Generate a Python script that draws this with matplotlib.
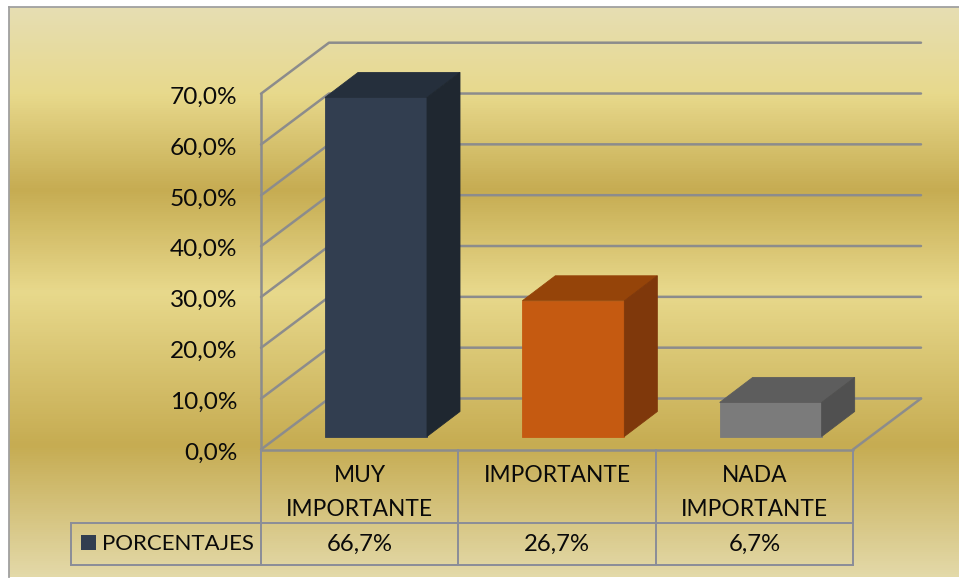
import numpy as np
import matplotlib
matplotlib.use("Agg")
import matplotlib.pyplot as plt
from matplotlib.patches import Polygon
from matplotlib.colors import LinearSegmentedColormap
from matplotlib.transforms import ScaledTranslation

categories = ["MUY\nIMPORTANTE", "IMPORTANTE", "NADA\nIMPORTANTE"]
values = [66.7, 26.7, 6.7]
value_labels = ["66,7%", "26,7%", "6,7%"]
series_name = "PORCENTAJES"
yticks = [0, 10, 20, 30, 40, 50, 60, 70]
ytick_labels = ["0,0%", "10,0%", "20,0%", "30,0%", "40,0%", "50,0%", "60,0%", "70,0%"]
front = ["#323E50", "#C55A11", "#7B7B7B"]
top = ["#252F3C", "#954409", "#5D5D5D"]
side = ["#1F2730", "#7F380B", "#505050"]

W, H = 959, 578
plt.rcParams["font.family"] = ["Lato", "DejaVu Sans"]
fs_num = 17.6
fs_tab = 17.2
fs_cat = 16.4
fs_ser = 16.0
GRID = "#8C8C8C"
TABLE = "#8A8D98"
INK = "#0A0A0A"
fig = plt.figure(figsize=(W / 100, H / 100), dpi=100, facecolor="white")

def px_axes(l, t, r, b, **kw):
    return fig.add_axes([l / W, 1 - b / H, (r - l) / W, (b - t) / H], **kw)

# background panel with banded gold gradient
bg = px_axes(9, 7, 959, 577)
stops = [(0, "#E6DEB2"), (0.15, "#E8D98C"), (0.32, "#C6AC52"), (0.50, "#E8D98C"),
         (0.77, "#C6AC52"), (1, "#E3D9A8")]
cm = LinearSegmentedColormap.from_list("gold", stops)
bg.imshow(np.linspace(0, 1, 570)[:, None], cmap=cm, aspect="auto", vmin=0, vmax=1)
bg.set_xticks([]); bg.set_yticks([])
for s in ["top", "left"]:
    bg.spines[s].set_color("#A0A0A0"); bg.spines[s].set_linewidth(1.3)
for s in ["right", "bottom"]:
    bg.spines[s].set_visible(False)

# main axes: front plane of the 3D box
Y0 = 449.5
X0 = 261
ax = px_axes(X0, 93.7, 853, Y0)
ax.set_xlim(0, 3); ax.set_ylim(0, 70)
ax.patch.set_alpha(0)
for s in ax.spines.values():
    s.set_visible(False)
ax.set_xticks([]); ax.set_yticks(yticks)
ax.set_yticklabels(ytick_labels, fontsize=fs_num, color=INK)
ax.tick_params(axis="y", length=0, pad=17)
shift = ScaledTranslation(0, -1.5 / 100, fig.dpi_scale_trans)
for lab in ax.get_yticklabels():
    lab.set_transform(lab.get_transform() + shift)

ux = 3 / 592   # data per px
uy = 70 / 355.8
dx, dy = 68 * ux, 51 * uy      # wall depth
gl = dict(color=GRID, lw=1.8, clip_on=False, solid_capstyle="round")
for v in yticks:
    ax.plot([0, dx, dx + 3], [v, v + dy, v + dy], **gl)
ax.plot([0, 0], [0, 70], **gl)
ax.plot([0, 3], [0, 0], **gl)
ax.plot([3, 3 + dx], [0, dy], **gl)

# bars
bw = 102 * ux
bx, by = 33 * ux, 25 * uy
x_off = 64 * ux
y_off = 13 * uy
for i, v in enumerate(values):
    x0 = i + x_off
    x1 = x0 + bw
    y0 = y_off
    y1 = y0 + v
    ec = dict(clip_on=False, lw=0.6)
    ax.add_patch(Polygon([(x0, y0), (x1, y0), (x1, y1), (x0, y1)], fc=front[i], ec=front[i], zorder=4, **ec))
    ax.add_patch(Polygon([(x0, y1), (x1, y1), (x1 + bx, y1 + by), (x0 + bx, y1 + by)], fc=top[i], ec=top[i], zorder=4, **ec))
    ax.add_patch(Polygon([(x1, y0), (x1 + bx, y0 + by), (x1 + bx, y1 + by), (x1, y1)], fc=side[i], ec=side[i], zorder=4, **ec))

# data table under the axis
def py(p):
    return -(p - Y0) * uy
def px(p):
    return (p - X0) * ux

row1 = py(522.5)
row2 = py(565)
left = px(71)
tl = dict(color=TABLE, lw=1.4, clip_on=False)
for c in range(0, 4):
    ax.plot([c, c], [0, row2], **tl)
ax.plot([left, 3], [row1, row1], **tl)
ax.plot([left, 3], [row2, row2], **tl)
ax.plot([left, left], [row1, row2], **tl)
for i, cat in enumerate(categories):
    for j, line in enumerate(cat.split("\n")):
        ax.text(i + 0.5, py(476 + 33 * j), line, ha="center", va="center",
                fontsize=fs_cat, color=INK, clip_on=False)
    ax.text(i + 0.5, py(544.5), value_labels[i], ha="center", va="center",
            fontsize=fs_tab, color=INK, clip_on=False)
ax.text(px(102), py(544.5), series_name, ha="left", va="center",
        fontsize=fs_ser, color=INK, clip_on=False)
ax.add_patch(Polygon([(px(81), py(535)), (px(96), py(535)), (px(96), py(550)), (px(81), py(550))],
                     fc=front[0], ec="none", clip_on=False))

fig.savefig("out.png", dpi=100, facecolor="white")
